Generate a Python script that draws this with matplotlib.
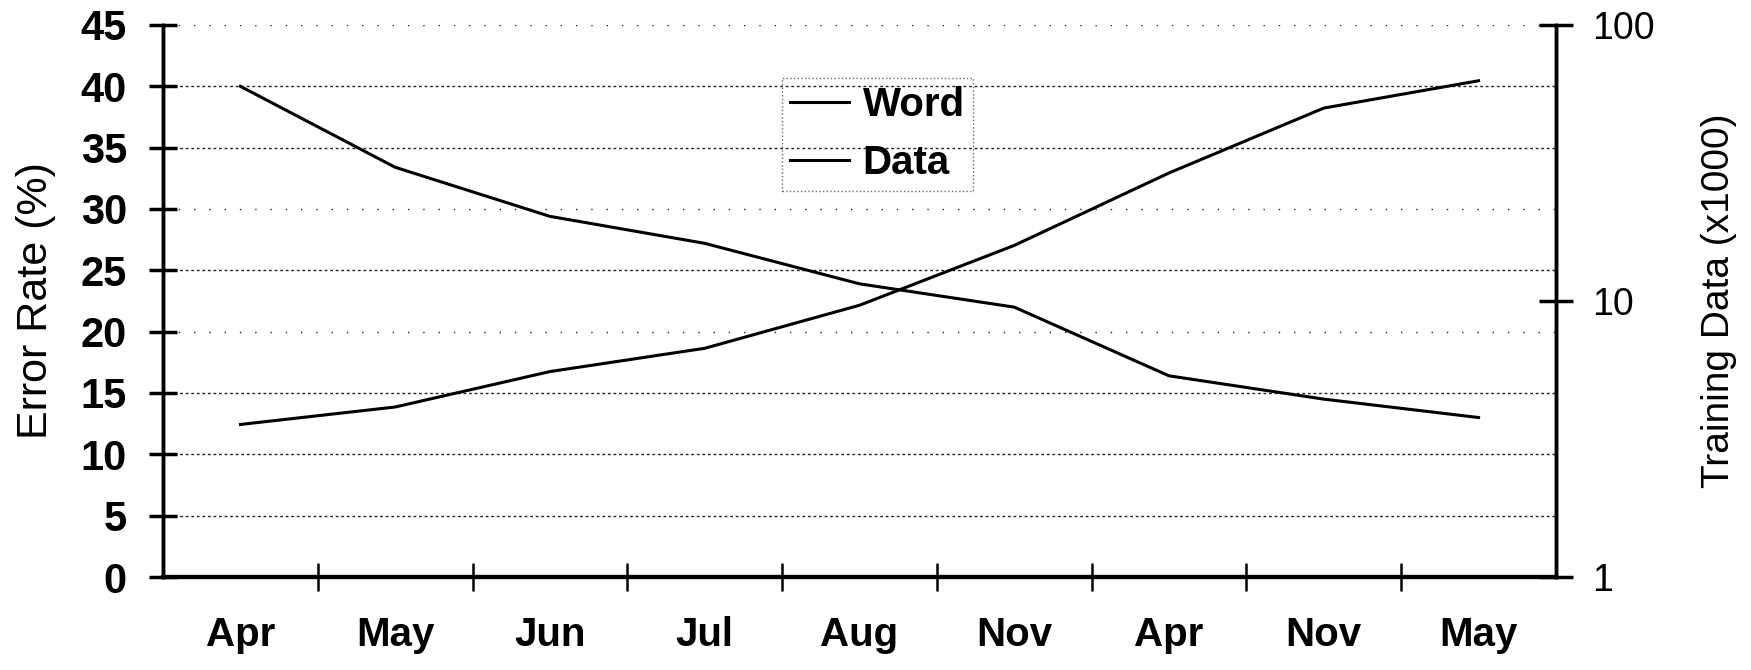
import matplotlib
matplotlib.use("Agg")
import matplotlib.pyplot as plt
import numpy as np

categories = ["Apr", "May", "Jun", "Jul", "Aug", "Nov", "Apr", "Nov", "May"]
word_error = [40.0, 33.4, 29.4, 27.2, 23.9, 22.0, 16.4, 14.5, 13.0]
training_data = [3.57, 4.13, 5.55, 6.74, 9.65, 15.9, 29.1, 50.0, 62.8]
left_ticks = [0, 5, 10, 15, 20, 25, 30, 35, 40, 45]
right_ticks = [1, 10, 100]
right_ticklabels = ["1", "10", "100"]

plt.rcParams['font.family'] = ['Liberation Sans', 'DejaVu Sans']

fig = plt.figure(figsize=(17.51, 6.70), dpi=100)
ax = fig.add_axes([0.0931, 0.1388, 0.8886 - 0.0931, 0.9627 - 0.1388])
ax2 = ax.twinx()

x = np.arange(len(categories))

# gridlines
for v in left_ticks[1:]:
    if v in (20, 30, 45):
        ls = (0, (1, 10))
    else:
        ls = (0, (2, 2))
    ax.axhline(v, color='#222222', lw=1.0, ls=ls, zorder=1)

l1, = ax.plot(x, word_error, color='black', lw=2.2, label='Word', zorder=3)
l2, = ax2.plot(x, training_data, color='black', lw=2.2, label='Data', zorder=3)

ax.set_xlim(-0.5, len(categories) - 0.5)
ax.set_ylim(0, 45)
ax2.set_yscale('log')
ax2.set_ylim(1, 100)

ax.set_yticks(left_ticks)
ax.set_yticklabels([str(t) for t in left_ticks], fontsize=30, fontweight='bold')
ax2.set_yticks(right_ticks)
ax2.set_yticklabels(right_ticklabels, fontsize=27)
ax2.yaxis.set_minor_locator(matplotlib.ticker.NullLocator())

ax.set_xticks(x)
ax.set_xticklabels(categories, fontsize=29, fontweight='bold')
ax.set_xticks(np.arange(0.5, len(categories) - 0.5, 1.0), minor=True)
ax.tick_params(axis='x', which='major', length=0, pad=28)
ax.tick_params(axis='x', which='minor', direction='inout', length=20, width=1.8)
ax.tick_params(axis='y', direction='inout', length=20, width=2.5, pad=16)
ax2.tick_params(axis='y', which='major', direction='inout', length=24, width=2.5, pad=14)

for a in (ax, ax2):
    a.spines['top'].set_visible(False)
    a.spines['left'].set_linewidth(2.5)
    a.spines['right'].set_linewidth(2.5)
    a.spines['bottom'].set_linewidth(3.0)

ax.set_ylabel("Error Rate (%)", fontsize=31, labelpad=18)
ax2.set_ylabel("Training Data (x1000)", fontsize=28, labelpad=33)

leg = ax.legend(handles=[l1, l2], loc='upper left', bbox_to_anchor=(0.43, 0.94),
                frameon=True, fancybox=False, handlelength=1.45,
                handletextpad=0.35, labelspacing=0.5, borderpad=0.2,
                prop={'size': 29, 'weight': 'bold'})
fr = leg.get_frame()
fr.set_edgecolor('#444444')
fr.set_linestyle(':')
fr.set_linewidth(1.0)
fr.set_facecolor('none')

fig.savefig("out.png", dpi=100, facecolor='white')
